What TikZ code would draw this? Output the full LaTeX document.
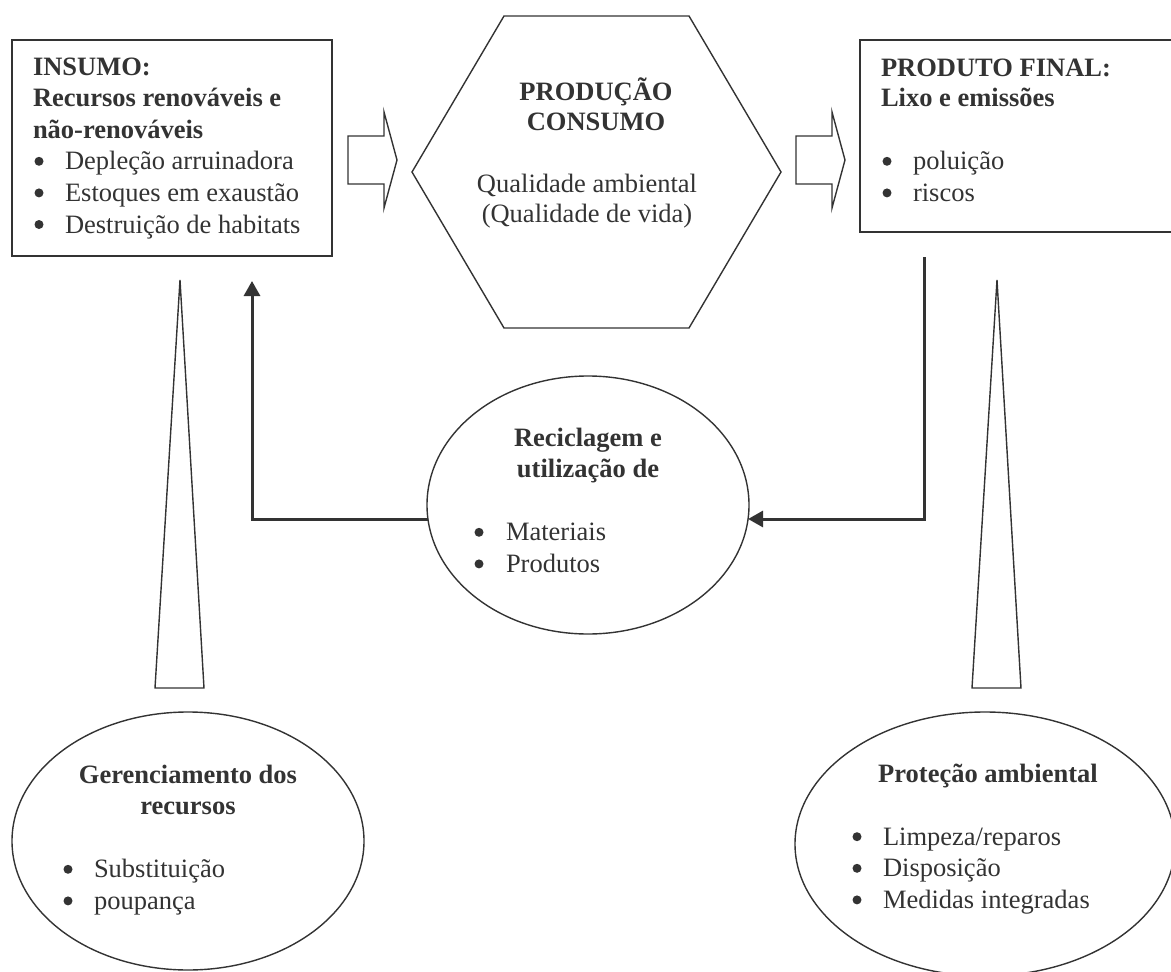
\documentclass[tikz,border=0pt]{standalone}
\usepackage{fontspec}
\setmainfont{Liberation Serif}
\usetikzlibrary{arrows.meta,shapes.geometric}
\definecolor{ink}{HTML}{333333}
\begin{document}
\begin{tikzpicture}[x=1pt,y=-1pt,
  every node/.style={text=ink, inner sep=0pt, outer sep=0pt},
  txt/.style={font=\fontsize{26.5}{31.6}\selectfont, anchor=base west},
  hd/.style={font=\fontsize{26.5}{31.6}\selectfont\bfseries, anchor=base west},
  chd/.style={font=\fontsize{26.5}{31.6}\selectfont\bfseries, anchor=base},
  ctxt/.style={font=\fontsize{26.5}{31.6}\selectfont, anchor=base},
  dot/.style={circle, fill=ink, minimum size=9pt},
  boxline/.style={draw=ink, line width=2pt},
  shapeline/.style={draw=ink, line width=1.4pt, line join=miter},
  fb/.style={draw=ink, line width=3pt, line join=miter,
             -{Triangle[width=16pt,length=15pt]}},
]
\useasboundingbox (0,0) rectangle (1171,972);
\clip (0,0) rectangle (1171,972);

% ---------- input box ----------
\node[boxline, rectangle, anchor=north west, minimum width=320pt, minimum height=216pt] (insumo) at (12,40) {};
\node[hd] (in1) at (33,75) {INSUMO:};
\node[hd] (in2) at (33,106.6) {Recursos renováveis e};
\node[hd] (in3) at (33,138.2) {não-renováveis};
\node[dot] (inb1) at (39,161.3) {};
\node[txt] (in4) at (65,169.8) {Depleção arruinadora};
\node[dot] (inb2) at (39,192.9) {};
\node[txt] (in5) at (65,201.4) {Estoques em exaustão};
\node[dot] (inb3) at (39,224.5) {};
\node[txt] (in6) at (65,233) {Destruição de habitats};

% ---------- block arrows ----------
\draw[shapeline] (348,136) -- (384,136) -- (384,112) -- (397,160) -- (384,208) -- (384,184) -- (348,184) -- cycle;
\draw[shapeline] (796,136) -- (832,136) -- (832,112) -- (845,160) -- (832,208) -- (832,184) -- (796,184) -- cycle;

% ---------- production hexagon ----------
\draw[shapeline] (412,172) -- (504,16) -- (689,16) -- (781,172) -- (689,328) -- (504,328) -- cycle;
\node[chd] (pr1) at (596,100) {PRODUÇÃO};
\node[chd] (pr2) at (596,130) {CONSUMO};
\node[ctxt] (pr3) at (587,192) {Qualidade ambiental};
\node[ctxt] (pr4) at (587,222) {(Qualidade de vida)};

% ---------- output box ----------
\node[boxline, rectangle, anchor=north west, minimum width=330pt, minimum height=192pt] (produto) at (860,40) {};
\node[hd] (pf1) at (881,76) {PRODUTO FINAL:};
\node[hd] (pf2) at (881,106.6) {Lixo e emissões};
\node[dot] (pfb1) at (887,161.3) {};
\node[txt] (pf3) at (913,169.8) {poluição};
\node[dot] (pfb2) at (887,192.9) {};
\node[txt] (pf4) at (913,201.4) {riscos};

% ---------- recycling ellipse ----------
\node[shapeline, ellipse, minimum width=322pt, minimum height=258pt] (recy) at (588,505) {};
\node[chd] (re1) at (588,446) {Reciclagem e};
\node[chd] (re2) at (588,477.6) {utilização de};
\node[dot] (reb1) at (479,532.3) {};
\node[txt] (re3) at (506,540.8) {Materiais};
\node[dot] (reb2) at (479,563.9) {};
\node[txt] (re4) at (506,572.4) {Produtos};

% ---------- feedback loop ----------
\coordinate (fbR) at (924,257);
\coordinate (fbL) at (252,281);
\draw[fb] (fbR) |- (recy.-5.4);
\draw[fb] (recy.185.4) -| (fbL);

% ---------- tall wedges ----------
\draw[shapeline] (180,280) -- (204,688) -- (155,688) -- cycle;
\draw[shapeline] (997,280) -- (1021,688) -- (972,688) -- cycle;

% ---------- resource management ----------
\node[shapeline, ellipse, minimum width=352pt, minimum height=258pt] (gere) at (188,841) {};
\node[chd] (ge1) at (188,783) {Gerenciamento dos};
\node[chd] (ge2) at (188,814.6) {recursos};
\node[dot] (geb1) at (68,869.3) {};
\node[txt] (ge3) at (94,877.8) {Substituição};
\node[dot] (geb2) at (68,900.9) {};
\node[txt] (ge4) at (94,909.4) {poupança};

% ---------- environmental protection ----------
\node[shapeline, ellipse, minimum width=380pt, minimum height=264pt] (prot) at (985,844) {};
\node[chd] (pt1) at (988,782) {Proteção ambiental};
\node[dot] (ptb1) at (857,836.7) {};
\node[txt] (pt2) at (883,845.2) {Limpeza/reparos};
\node[dot] (ptb2) at (857,868.3) {};
\node[txt] (pt3) at (883,876.8) {Disposição};
\node[dot] (ptb3) at (857,899.9) {};
\node[txt] (pt4) at (883,908.4) {Medidas integradas};
\end{tikzpicture}
\end{document}
